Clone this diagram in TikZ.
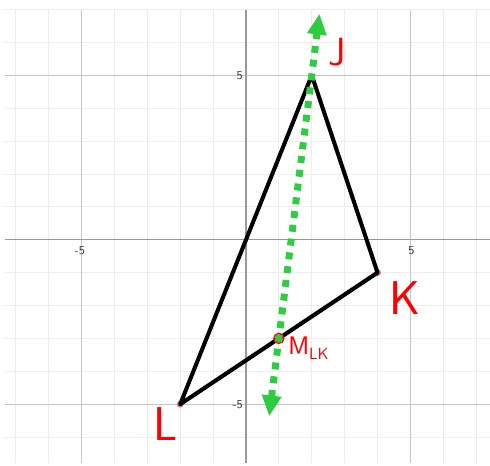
\documentclass[tikz,border=0pt]{standalone}
\usetikzlibrary{arrows.meta, positioning, calc}
\definecolor{dashgreen}{RGB}{46,204,64}
\definecolor{dotred}{RGB}{222,120,120}

\begin{document}
\begin{tikzpicture}[
    x = 1cm, y = 1cm,
    minorgrid/.style = {draw=gray!14, line width=0.8pt},
    majorgrid/.style = {draw=gray!45, line width=0.8pt},
    axisline/.style  = {draw=gray!80, line width=1.2pt},
    ticklab/.style   = {font=\sffamily\fontsize{10.5}{12}\selectfont, text=black!80, inner sep=0pt},
    side/.style      = {draw=black, line width=3.5pt, line join=round},
    vertex/.style    = {circle, fill=dotred, inner sep=0pt, minimum size=0.21cm},
    midring/.style   = {circle, draw=red, line width=1.3pt, inner sep=0pt, minimum size=0.3cm},
    bisect/.style    = {draw=dashgreen, line width=6pt, dash pattern=on 6pt off 6pt,
                        {Triangle[length=18pt,width=16pt]}-{Triangle[length=18pt,width=16pt]}},
    ptlabel/.style   = {text=red, inner sep=0pt},
]
\useasboundingbox (-7.48,-6.87) rectangle (7.42,7.29);

%% Grid and axes
\draw[minorgrid] (-7.33,-6.78) grid[step=1] (7.42,7.0);
\draw[majorgrid] (-7.33,-6.78) grid[step=5] (7.42,7.0);
\draw[axisline] (-7.33,0) -- (7.42,0);
\draw[axisline] (0,-6.78) -- (0,7.0);

%% Tick labels
\node[ticklab, anchor=north] (xm5) at (-5.05,-0.2) {-5};
\node[ticklab, anchor=north] (xp5) at (5.03,-0.2)  {5};
\node[ticklab, anchor=east]  (yp5) at (-0.09,5)    {5};
\node[ticklab, anchor=east]  (ym5) at (-0.09,-5)   {-5};

%% Triangle vertices
\coordinate (J) at (2,5);
\coordinate (K) at (4,-1);
\coordinate (L) at (-2,-5);
\coordinate (M) at ($(L)!0.5!(K)$);

\node[vertex] (Kdot) at (K) {};
\node[vertex] (Ldot) at (L) {};

\draw[side] (J) -- (K) -- (L) -- cycle;
\node[midring] (Mring) at (M) {};

%% Line from the midpoint through J
\coordinate (top)    at ($(M)!1.234!(J)$);
\coordinate (bottom) at ($(M)!-0.296!(J)$);
\draw[bisect] (bottom) -- (top);

%% Point labels
\node[ptlabel, font=\sffamily\fontsize{34}{34}\selectfont] (Jlab) at (2.77,5.71)  {J};
\node[ptlabel, font=\sffamily\fontsize{41}{41}\selectfont] (Klab) at (4.82,-1.78) {K};
\node[ptlabel, font=\sffamily\fontsize{41}{41}\selectfont] (Llab) at (-2.46,-5.61) {L};
\node[ptlabel, anchor=base west, font=\sffamily\fontsize{22}{22}\selectfont] (Mlab) at (1.28,-3.50)
    {M\raisebox{-4.3pt}{\fontsize{14}{14}\selectfont LK}};

\end{tikzpicture}
\end{document}
